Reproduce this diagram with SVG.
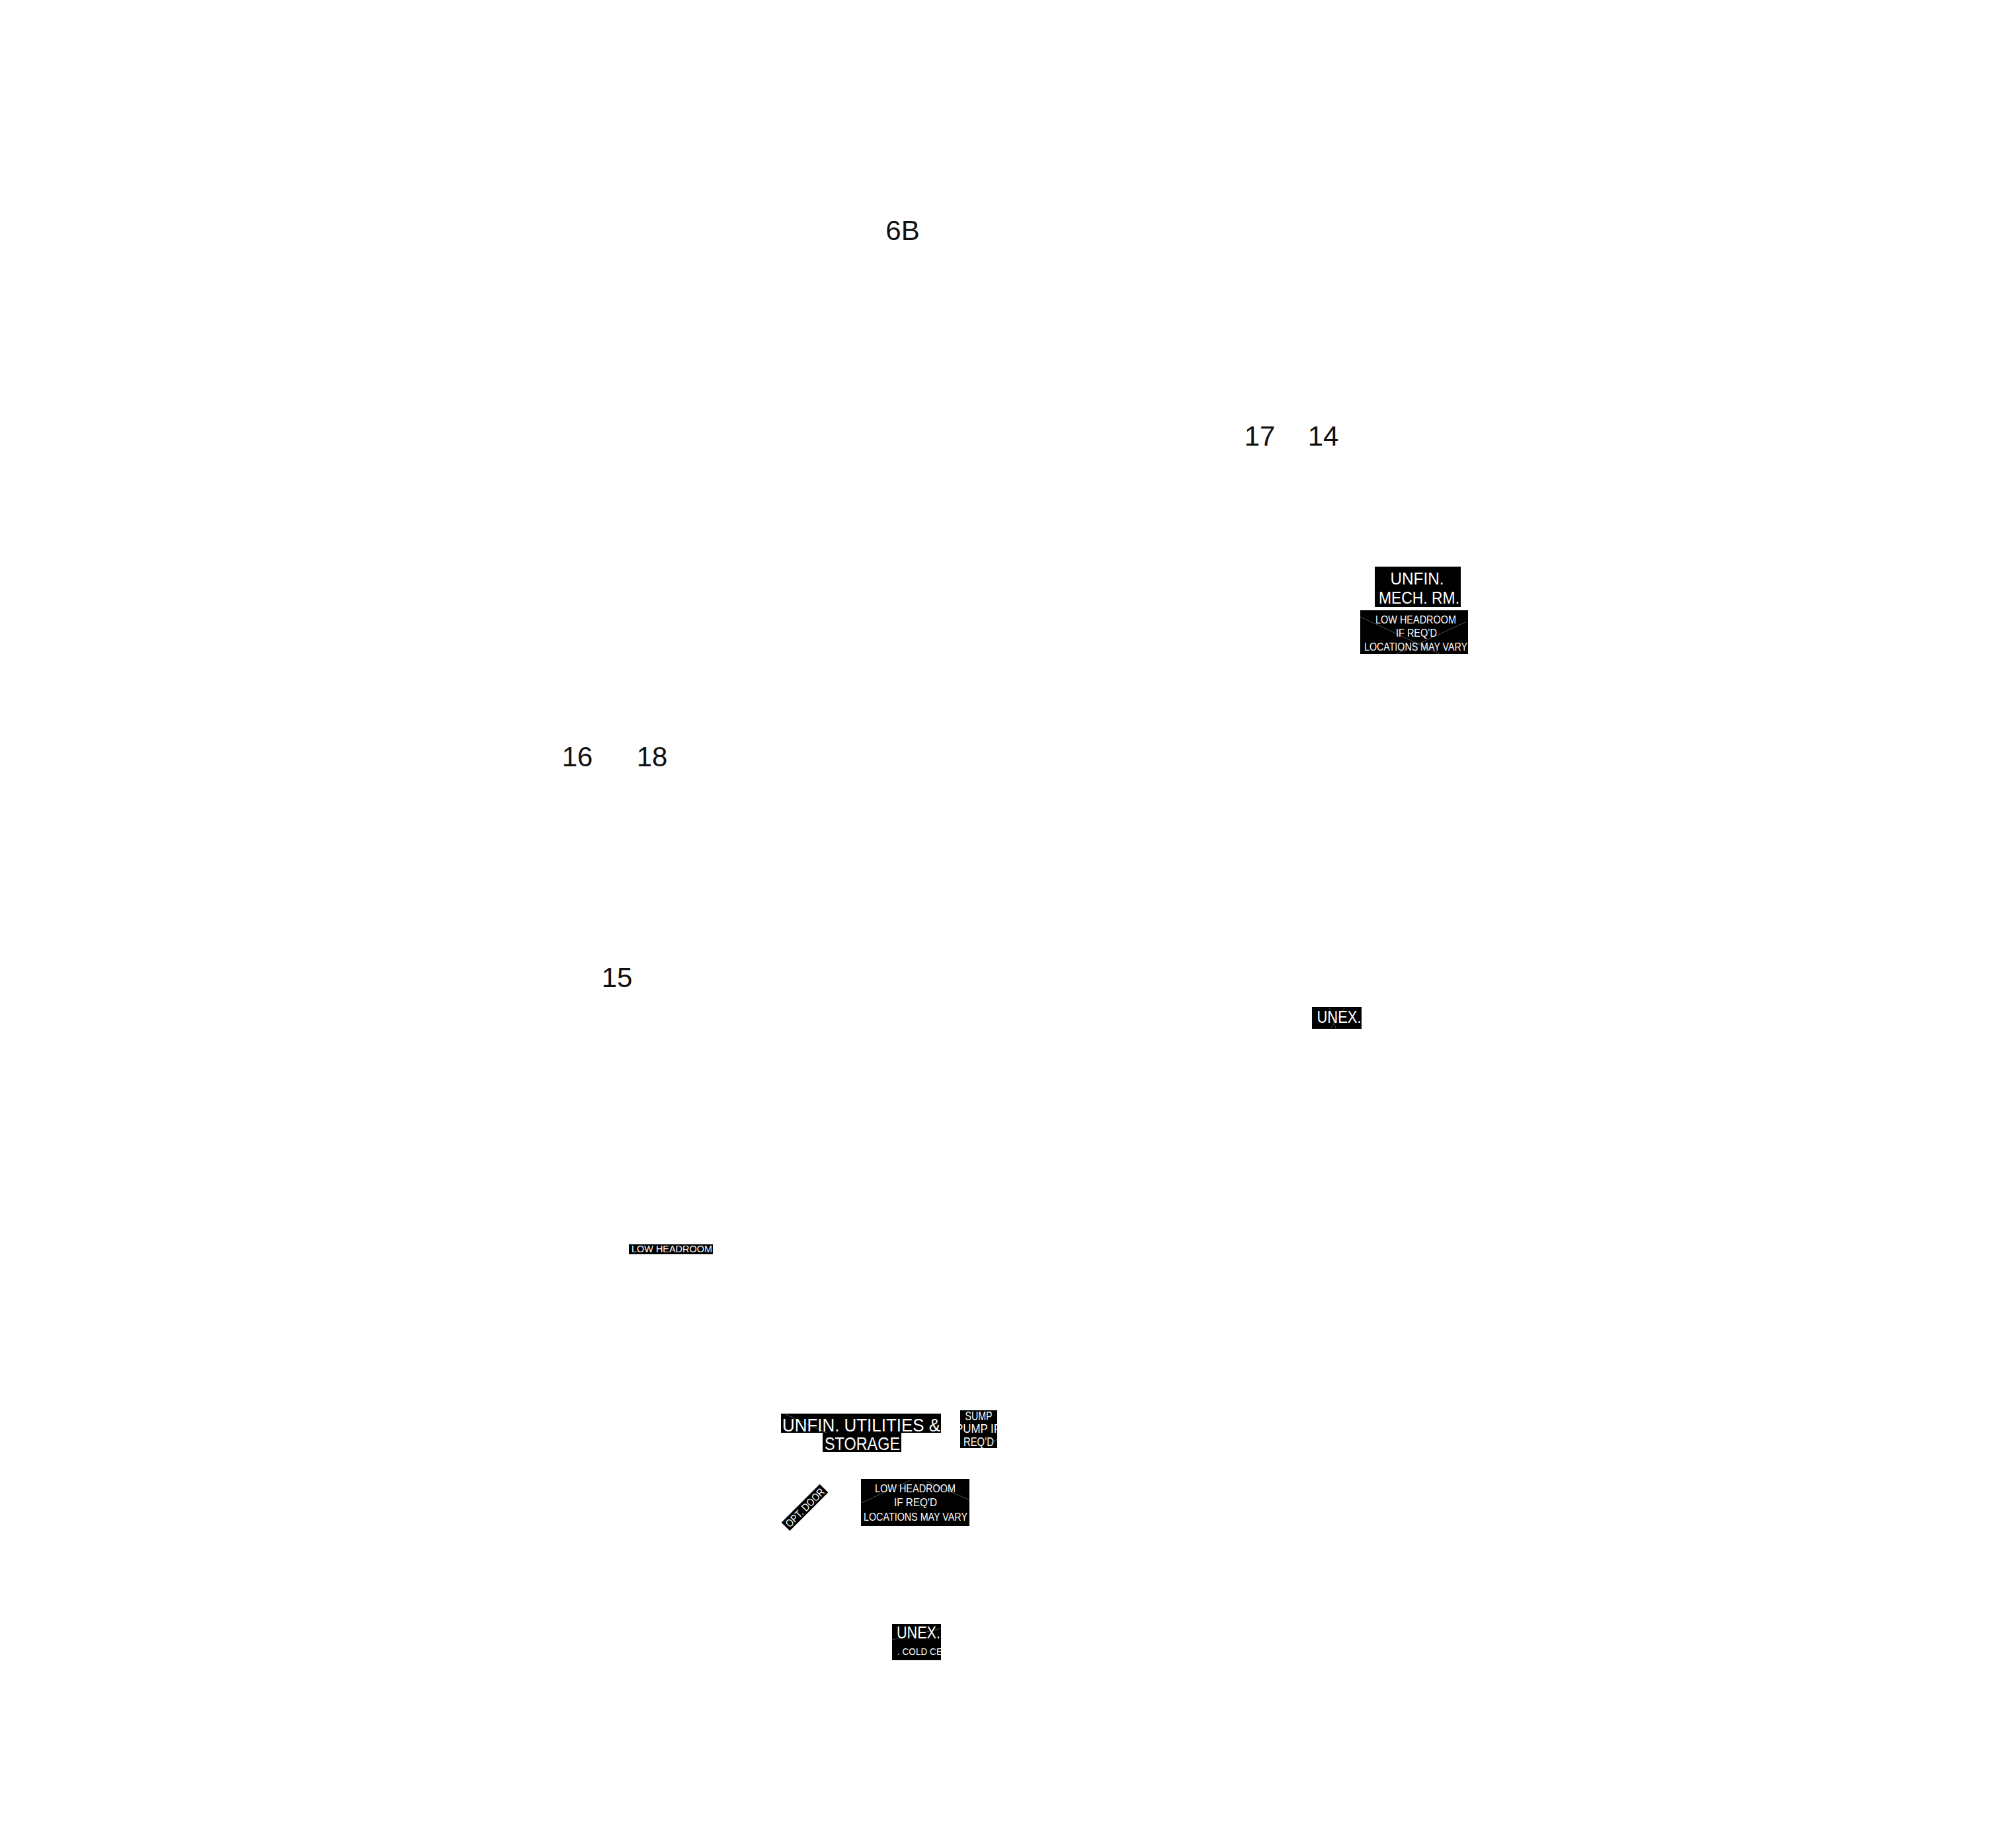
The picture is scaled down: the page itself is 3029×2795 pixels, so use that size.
<svg xmlns="http://www.w3.org/2000/svg" width="3029" height="2795" viewBox="0 0 3029 2795">
<style>
.num{font-family:"Liberation Sans",Arial,sans-serif;font-size:42px;fill:#111;text-anchor:middle}
.box{fill:#000}
.lbl{font-family:"Liberation Sans",Arial,sans-serif;fill:#fff;text-anchor:middle}
.pl{stroke:#505050;stroke-width:1;fill:none}
</style>
<defs>
<clipPath id="cSump"><rect x="1452" y="2133" width="56" height="57"/></clipPath>
<clipPath id="cCold"><rect x="1349" y="2456" width="74" height="55"/></clipPath>
</defs>
<rect width="3029" height="2795" fill="#fff"/>
<g id="connectors"></g>
<g id="room-6B"><text class="num" x="1365" y="363">6B</text></g>
<g id="room-17"><text class="num" x="1905" y="674">17</text></g>
<g id="room-14"><text class="num" x="2001" y="674">14</text></g>
<g id="room-16"><text class="num" x="873" y="1159">16</text></g>
<g id="room-18"><text class="num" x="986" y="1159">18</text></g>
<g id="room-15"><text class="num" x="933" y="1493">15</text></g>
<g id="label-mech">
<rect class="box" x="2079" y="857" width="130" height="61"/>
<text class="lbl" x="2143" y="884" font-size="26" textLength="81" lengthAdjust="spacingAndGlyphs">UNFIN.</text>
<text class="lbl" x="2146" y="913" font-size="26" textLength="122" lengthAdjust="spacingAndGlyphs">MECH. RM.</text>
</g>
<g id="label-lowhead-1">
<rect class="box" x="2057" y="923" width="163" height="66"/>
<path class="pl" d="M2057 933 L2177 989 M2216 941 L2112 989"/>
<text class="lbl" x="2141" y="943" font-size="17" textLength="122" lengthAdjust="spacingAndGlyphs">LOW HEADROOM</text>
<text class="lbl" x="2142" y="963" font-size="17" textLength="62" lengthAdjust="spacingAndGlyphs">IF REQ’D</text>
<text class="lbl" x="2141" y="984" font-size="17" textLength="156" lengthAdjust="spacingAndGlyphs">LOCATIONS MAY VARY</text>
</g>
<g id="label-unex-1">
<rect class="box" x="1984" y="1523" width="75" height="33"/>
<path class="pl" d="M2010 1524 L2020 1555 M2034 1524 L2012 1555"/>
<text class="lbl" x="2025" y="1547" font-size="26" textLength="67" lengthAdjust="spacingAndGlyphs">UNEX.</text>
</g>
<g id="label-lowhead-small">
<rect class="box" x="951" y="1882" width="127" height="15"/>
<text class="lbl" x="1016" y="1894" font-size="15" textLength="122" lengthAdjust="spacingAndGlyphs">LOW HEADROOM</text>
</g>
<g id="label-utilities">
<rect class="box" x="1181" y="2138" width="242" height="29"/>
<rect class="box" x="1244" y="2167" width="119" height="29"/>
<path class="pl" d="M1188 2139 L1250 2167"/>
<text class="lbl" x="1302.5" y="2165" font-size="28" textLength="239" lengthAdjust="spacingAndGlyphs">UNFIN. UTILITIES &amp;</text>
<text class="lbl" x="1304" y="2193" font-size="28" textLength="114" lengthAdjust="spacingAndGlyphs">STORAGE</text>
</g>
<g id="label-sump">
<rect class="box" x="1452" y="2133" width="56" height="57"/>
<path class="pl" d="M1497 2183 L1508 2177"/>
<g clip-path="url(#cSump)">
<text class="lbl" x="1480" y="2148" font-size="18" textLength="41" lengthAdjust="spacingAndGlyphs">SUMP</text>
<text class="lbl" x="1479" y="2167" font-size="18" textLength="68" lengthAdjust="spacingAndGlyphs">PUMP IF</text>
<text class="lbl" x="1480" y="2187" font-size="18" textLength="46" lengthAdjust="spacingAndGlyphs">REQ’D</text>
</g>
</g>
<g id="label-optdoor" transform="translate(1217 2280) rotate(-45)">
<rect class="box" x="-41" y="-9" width="82" height="18"/>
<text class="lbl" x="0" y="6" font-size="16" textLength="76" lengthAdjust="spacingAndGlyphs">OPT. DOOR</text>
</g>
<g id="label-lowhead-2">
<rect class="box" x="1302" y="2237" width="164" height="71"/>
<path class="pl" d="M1303 2273 L1378 2238 M1400 2240 L1465 2268"/>
<text class="lbl" x="1384" y="2257" font-size="17" textLength="122" lengthAdjust="spacingAndGlyphs">LOW HEADROOM</text>
<text class="lbl" x="1384.5" y="2278" font-size="17" textLength="65" lengthAdjust="spacingAndGlyphs">IF REQ'D</text>
<text class="lbl" x="1384.5" y="2300" font-size="17" textLength="157" lengthAdjust="spacingAndGlyphs">LOCATIONS MAY VARY</text>
</g>
<g id="label-unex-cold">
<rect class="box" x="1349" y="2456" width="74" height="55"/>
<path class="pl" d="M1349 2480 L1423 2463"/>
<g clip-path="url(#cCold)">
<text class="lbl" x="1389" y="2478" font-size="25" textLength="66" lengthAdjust="spacingAndGlyphs">UNEX.</text>
<text class="lbl" x="1357" y="2503" font-size="15" style="text-anchor:start" textLength="68" lengthAdjust="spacingAndGlyphs">. COLD CE</text>
</g>
</g>
</svg>
